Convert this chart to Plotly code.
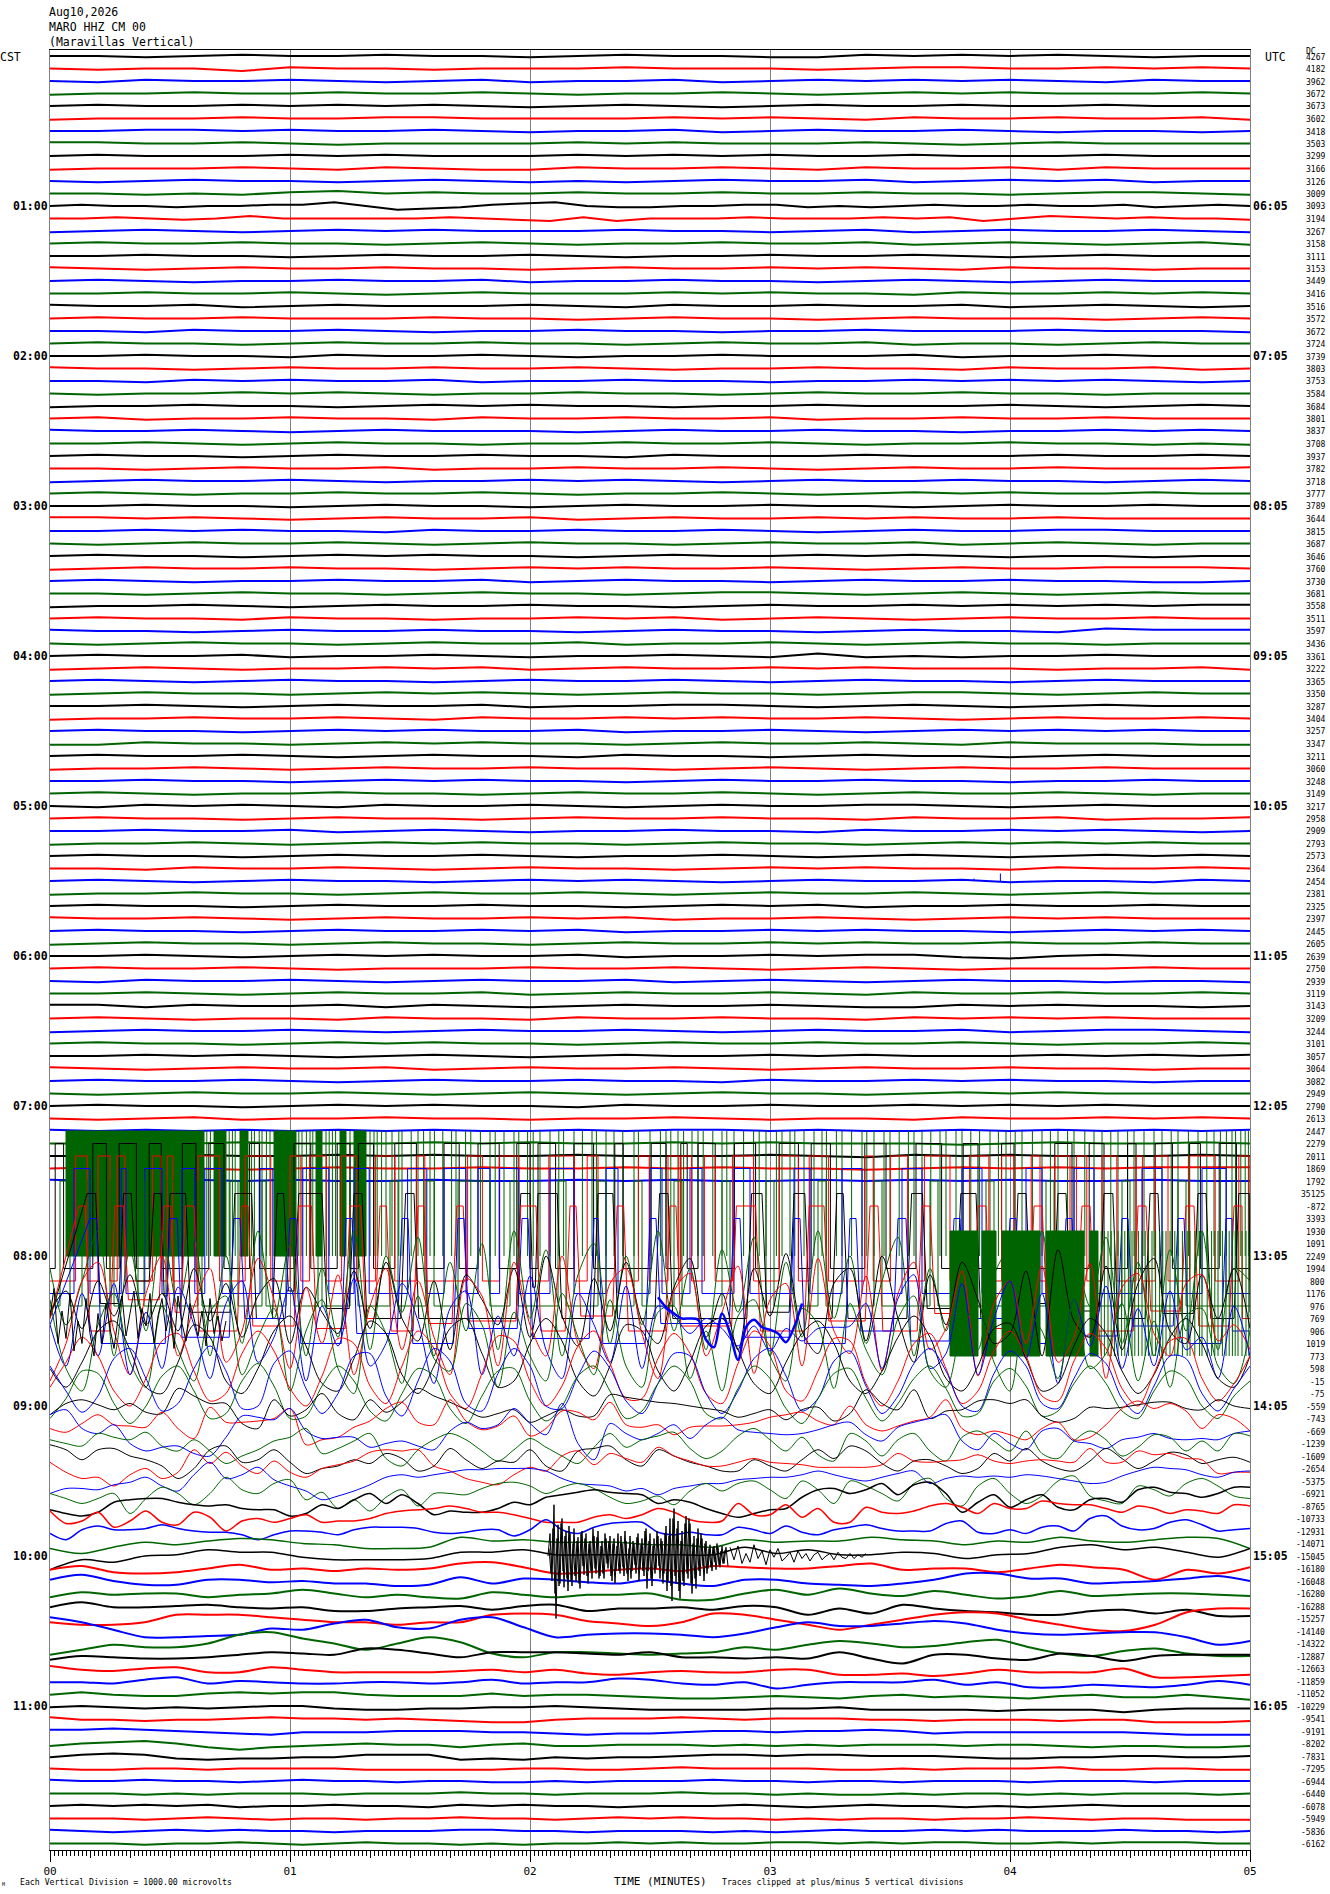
import plotly.graph_objects as go

# ---------- labels ----------
dc_labels = [4267,4182,3962,3672,3673,3602,3418,3503,3299,3166,3126,3009,
3093,3194,3267,3158,3111,3153,3449,3416,3516,3572,3672,3724,
3739,3803,3753,3584,3684,3801,3837,3708,3937,3782,3718,3777,
3789,3644,3815,3687,3646,3760,3730,3681,3558,3511,3597,3436,
3361,3222,3365,3350,3287,3404,3257,3347,3211,3060,3248,3149,
3217,2958,2909,2793,2573,2364,2454,2381,2325,2397,2445,2605,
2639,2750,2939,3119,3143,3209,3244,3101,3057,3064,3082,2949,
2790,2613,2447,2279,2011,1869,1792,35125,-872,3393,1930,1091,
2249,1994,800,1176,976,769,906,1019,773,598,-15,-75,
-559,-743,-669,-1239,-1609,-2654,-5375,-6921,-8765,-10733,-12931,-14071,
-15045,-16180,-16048,-16280,-16288,-15257,-14140,-14322,-12887,-12663,-11859,-11052,
-10229,-9541,-9191,-8202,-7831,-7295,-6944,-6440,-6078,-5949,-5836,-6162]
left_hours = ["01:00","02:00","03:00","04:00","05:00","06:00","07:00","08:00","09:00","10:00","11:00"]
right_hours = ["06:05","07:05","08:05","09:05","10:05","11:05","12:05","13:05","14:05","15:05","16:05"]
minute_labels = ["00","01","02","03","04","05"]
colors = ["#000000","#ff0000","#0000ff","#006400"]

# ---------- trace deviations, tenths of a vertical division, positive = up ----------
t000=[0,0,-1,0,1,0,0,1,0,0,-1,0,1,0,0,-1,-1,1,0,1,0,1,0,-1,0,0]
t001=[0,-1,0,0,-2,1,0,0,-1,0,0,0,1,0,0,0,-1,0,1,1,0,0,1,0,1,0]
t002=[0,-1,1,0,0,1,0,-1,0,1,-1,0,0,1,-1,0,1,0,1,0,1,0,-1,1,0,0]
t003=[-1,0,0,1,0,0,1,0,0,1,0,-1,0,0,1,0,-1,0,1,0,1,0,0,0,1,0]
t004=[0,1,0,0,1,0,1,0,1,0,-1,0,1,0,-1,0,1,0,0,1,0,0,1,0,0,0]
t005=[-1,0,0,0,1,0,0,1,1,0,0,0,0,1,0,1,0,-1,1,0,0,1,0,0,1,-1]
t006=[0,0,1,1,0,1,0,0,1,0,-1,0,0,1,-1,0,1,0,0,1,0,-1,0,0,-1,0]
t007=[1,1,0,0,1,0,-1,0,0,0,0,1,0,1,0,0,0,1,0,-1,0,1,0,0,0,0]
t008=[0,1,0,0,0,1,0,1,0,0,0,1,0,1,0,1,0,0,1,0,0,0,1,0,0,0]
t009=[-1,0,0,0,1,0,-1,1,0,-1,-1,1,0,0,1,0,-1,1,0,0,1,-1,1,0,0,0]
t010=[0,-1,0,1,0,0,-1,0,1,0,-1,0,-1,0,1,0,0,1,-1,0,1,0,1,-1,0,0]
t011=[0,0,-1,0,-1,1,2,0,1,0,0,1,0,0,1,0,0,1,0,0,-1,0,1,1,0,-1]
t012=[0,1,0,0,-1,0,0,1,1,3,0,-3,-2,-1,1,2,3,0,-1,-1,0,0,1,1,-1,0,-1,0,1,0,0,1,0,0,1,-1,0,1,0]
t013=[0,0,1,0,-1,0,2,0,0,0,0,0,1,0,-1,-2,1,-2,0,0,0,1,0,0,0,1,0,1,-2,0,2,1,0,1,0,0,-1]
t014=[-1,0,1,0,-1,0,1,0,1,0,0,0,1,0,0,-1,0,1,-1,0,1,0,0,1,0,-1]
t015=[0,1,0,0,1,0,0,-1,0,1,0,-1,0,0,1,0,0,1,-1,0,1,0,-1,0,1,-1]
t016=[0,0,1,0,0,-1,0,1,0,0,1,0,-1,0,0,1,0,0,1,0,-1,0,1,0,0,0]
t017=[1,0,-1,0,1,0,0,1,0,0,-1,0,1,0,0,1,0,1,0,-1,1,0,0,-1,0,0]
t018=[0,1,0,-1,0,0,1,0,0,1,-1,0,0,1,0,0,-1,0,1,0,-1,0,1,0,0,0]
t019=[0,0,1,0,0,1,0,-1,0,1,0,0,0,1,0,1,0,0,-1,1,0,0,1,0,1,0]
t020=[1,0,0,1,-1,0,1,0,0,0,1,0,-1,1,0,0,1,0,0,1,-1,0,1,0,-1,0]
t021=[0,1,0,0,1,0,0,0,1,0,0,-1,0,1,0,0,-1,0,1,0,0,0,-1,0,1,0]
t022=[0,0,-1,1,0,0,1,0,-1,0,0,1,0,0,-1,0,0,1,0,0,0,1,0,0,0,-1]
t023=[0,1,0,0,-1,0,1,0,0,1,0,0,-1,0,1,0,0,1,-1,0,0,-1,0,1,0,0]
t024=[0,0,1,0,0,-1,1,0,0,1,0,-1,0,0,1,0,0,0,1,-1,0,0,1,0,0,0]
t025=[1,0,0,-1,0,1,0,0,1,0,0,1,0,-1,0,0,1,0,0,-1,1,0,0,1,-1,0]
t026=[0,0,-1,1,0,1,0,0,1,-1,0,0,1,0,0,-1,0,0,1,0,1,0,1,0,-1,0]
t027=[0,-1,0,0,1,0,1,0,-1,0,0,1,0,0,-1,0,1,0,0,1,0,0,-1,0,0,0]
t028=[-1,0,0,1,0,0,-1,0,1,0,1,0,0,-1,0,0,1,0,0,0,1,0,-1,0,1,0]
t029=[0,1,-1,0,0,1,0,0,-1,1,0,0,1,0,0,1,-1,0,0,1,0,0,1,0,0,0]
t030=[1,0,0,1,0,-1,0,1,0,0,0,-1,0,1,0,0,1,0,0,-1,0,0,1,0,1,0]
t031=[0,0,1,0,-1,0,1,0,0,-1,0,0,1,0,0,1,0,-1,0,0,1,0,0,-1,0,-1]
t032=[0,1,0,0,-1,0,1,0,0,1,0,0,-1,1,0,0,0,1,0,0,0,1,0,0,1,0]
t033=[0,0,-1,0,1,0,0,1,-1,0,0,1,0,0,1,0,-1,0,1,0,0,1,0,0,0,1]
t034=[-1,0,1,0,0,1,0,-1,0,0,1,0,1,0,-1,0,1,0,0,1,0,0,-1,0,1,0]
t035=[0,1,0,-1,0,0,1,0,0,1,0,-1,0,0,1,0,-1,0,1,0,1,0,0,1,0,0]
t036=[0,0,1,0,0,-1,0,1,0,0,-1,0,1,0,0,1,0,0,-1,0,1,0,0,1,0,0]
t037=[1,1,0,1,0,-1,0,1,0,0,1,-1,0,1,0,0,1,0,1,0,0,1,0,0,0,0]
t038=[0,0,1,0,1,0,0,-1,1,0,0,1,0,0,1,0,-1,0,1,0,0,1,1,0,0,0]
t039=[0,-1,0,1,0,0,1,0,-1,0,1,0,0,-1,0,1,0,0,1,-1,0,1,0,-1,0,0]
t040=[0,1,0,0,-1,0,1,0,1,0,0,-1,0,1,0,0,1,0,1,0,-1,0,0,-1,0,0]
t041=[-1,0,1,0,0,1,0,0,-1,0,1,0,1,0,0,1,0,-1,0,1,0,0,1,1,1,0]
t042=[0,1,0,-1,0,0,1,0,0,1,-1,0,1,0,0,-1,0,1,0,0,1,0,0,-1,-1,0]
t043=[0,0,-1,0,1,0,0,-1,0,1,0,0,-1,0,1,1,0,-1,0,1,0,-1,0,1,0,0]
t044=[-1,0,0,1,0,-1,0,1,0,0,1,0,0,-1,0,1,0,0,1,0,1,0,1,0,1,1]
t045=[0,1,0,0,-1,1,0,0,-1,0,0,1,0,1,-1,0,1,0,-1,0,1,0,0,1,0,0]
t046=[1,0,0,-1,0,1,0,0,1,0,0,-1,0,1,0,0,-1,0,1,0,0,-1,2,1,1,1]
t047=[0,-1,0,1,0,0,-1,0,1,0,0,1,-1,0,0,1,0,-1,0,1,0,0,-1,0,0,0]
t048=[0,1,0,0,1,-1,0,0,1,0,-1,0,0,1,0,-1,2,-1,0,-1,0,0,1,0,0,0]
t049=[-1,0,1,0,-1,0,0,1,0,1,-1,0,1,0,0,1,0,1,0,0,0,-1,0,0,1,-1]
t050=[0,1,0,-1,0,1,0,0,-1,0,1,0,0,1,0,-1,0,1,0,0,-1,0,1,0,0,0]
t051=[-1,0,1,0,0,-1,0,1,0,1,0,-1,0,1,0,0,-1,0,1,1,0,-1,0,1,0,0]
t052=[0,0,1,0,-1,0,1,0,0,1,-1,0,0,1,1,0,-1,0,1,0,-1,0,1,0,0,0]
t053=[-1,0,0,1,0,0,1,0,-1,1,0,0,1,0,1,0,0,1,0,-1,0,1,0,0,1,0]
t054=[0,1,0,0,-1,0,1,0,1,0,0,1,-1,0,0,1,0,-1,0,1,0,1,0,1,0,0]
t055=[-1,-1,1,0,0,-1,0,1,0,1,0,0,-1,0,1,0,0,1,0,-1,1,0,0,0,-1,-1]
t056=[0,1,0,0,1,0,-1,0,1,0,0,-1,1,0,0,-1,0,1,0,0,-1,0,1,0,0,0]
t057=[-1,0,0,1,0,-1,0,1,0,0,1,0,0,-1,0,1,0,-1,0,1,0,0,1,0,0,0]
t058=[0,0,1,0,0,-1,0,1,0,1,0,0,-1,0,1,0,0,1,0,0,-1,0,0,1,0,0]
t059=[0,1,0,-1,0,0,1,0,0,-1,0,1,0,0,1,0,-1,0,1,0,0,1,0,-1,0,0]
t060=[0,-1,1,0,1,0,-1,1,0,0,1,0,-1,0,1,0,0,1,1,0,-1,0,1,0,0,0]
t061=[0,1,0,0,-1,0,1,0,0,-1,0,1,0,0,1,0,0,-1,1,0,0,1,-1,0,0,1]
t062=[0,0,1,0,0,1,-1,0,1,0,-1,0,0,1,0,0,-1,1,0,0,1,0,1,0,-1,0]
t063=[-1,0,0,1,0,-1,0,1,0,1,0,0,-1,0,1,0,0,-1,0,1,0,1,0,1,0,0]
t064=[0,1,0,0,-1,0,1,0,0,1,0,-1,0,0,1,0,-1,0,1,0,-1,0,1,0,1,0]
t065=[0,0,-1,1,0,0,1,0,-1,0,1,0,0,-1,0,1,0,1,0,0,-1,1,0,0,1,0]
t066=[0,1,0,-1,0,1,0,0,-1,0,1,0,1,0,-1,0,1,0,0,1,-1,0,0,-1,1,0]
t067=[-1,0,0,1,0,0,-1,0,1,0,0,1,0,-1,0,1,0,0,1,0,-1,0,1,0,0,0]
t068=[0,1,0,0,-1,0,1,0,0,1,0,0,-1,0,1,0,1,-1,0,0,1,0,0,1,0,0]
t069=[1,0,0,1,0,-1,0,1,0,0,1,0,1,-1,0,0,1,0,-1,0,1,0,1,0,0,0]
t070=[0,1,0,0,-1,0,1,0,0,1,0,1,-1,0,0,1,0,1,0,0,-1,0,1,0,1,0]
t071=[-1,0,1,0,0,-1,0,1,0,0,-1,0,1,0,0,1,0,1,0,0,1,0,0,1,0,0]
t072=[0,0,1,0,-1,0,1,0,1,0,0,1,-1,0,0,1,0,1,1,-1,-2,0,1,0,0,0]
t073=[0,1,0,0,1,0,-1,0,0,0,1,0,0,1,0,-1,0,1,0,-1,0,0,0,1,0,0]
t074=[0,-1,1,0,0,1,0,-1,0,1,0,0,1,-1,0,1,0,-1,0,1,0,0,-1,0,0,-1]
t075=[0,0,1,0,-1,0,1,0,0,1,-1,0,1,0,0,1,0,-1,1,0,0,1,0,0,1,0]
t076=[1,1,-1,1,0,0,1,-1,1,0,-1,0,1,0,0,1,0,-1,-1,1,0,1,0,0,-1,0]
t077=[0,1,0,-1,0,0,-1,1,0,0,-1,1,0,0,1,0,0,-1,1,0,1,0,1,0,0,0]
t078=[-1,0,1,0,0,1,0,-1,0,1,0,0,1,0,-1,0,1,0,0,1,-1,0,1,1,0,-1]
t079=[0,1,0,0,-1,0,1,0,1,0,0,-1,0,1,0,0,1,0,0,1,0,-1,0,0,1,0]
t080=[0,0,1,0,1,0,-1,0,1,0,-1,0,1,0,0,1,0,1,0,0,0,1,0,1,0,1]
t081=[1,0,-1,0,1,0,0,1,-1,0,1,0,0,1,0,-1,0,1,0,0,1,0,0,-1,0,0]
t082=[0,1,0,0,1,0,-1,0,1,0,0,1,0,0,-1,1,0,0,1,0,1,0,0,-1,0,0]
t083=[0,-1,0,1,0,0,1,0,-1,0,1,0,-1,0,1,0,0,-1,0,1,0,1,0,0,0,0]
t084=[0,1,0,0,-1,0,1,0,1,0,0,-1,1,0,0,1,0,0,1,0,1,0,1,0,0,0]
t085=[0,-1,0,1,-1,0,0,1,0,0,-1,0,0,1,0,-1,0,0,-1,1,0,0,1,0,1,0]
t086=[1,0,1,0,1,0,1,0,1,0,0,1,0,1,1,0,1,0,0,1,0,1,0,1,0,1]
t087=[0,0,1,0,1,0,0,0,1,0,1,0,0,1,0,1,0,0,0,-1,0,1,0,0,1,0]
t088=[0,0,0,1,0,0,1,0,1,0,0,1,0,0,0,1,0,-1,1,0,1,0,0,0,1,0]
t089=[0,1,0,0,-1,0,1,0,0,1,0,0,1,0,1,0,0,-1,0,1,0,1,0,1,1,1]
t090=[1,0,0,1,0,1,0,0,1,0,0,1,0,1,0,0,1,0,1,0,1,0,0,1,0,0]

# green trace 91 / 99: full-scale oscillation, windows and single strokes (seconds)
g91_solid_start=[4,41,47.5,56,66.5,72.5,76]
g91_solid_end=[38.5,44,49.5,61.5,68,74,79]
g91_spikes=[39.2,40.1,44.8,45.6,46.3,50.4,51.1,52.3,53,54.1,55,62.2,63,64.1,65,65.7,69,69.8,70.6,71.4,75,80,81,81.8,82.9,84,85.5,87.2,88,90.3,92,93.4,95,96.1,98.2,100.4,101.5,103.9,105.2,107.6,110,111.3,113.5,116,117.2,119.4,120.8,122.5,125,127.2,128.4,131,133.1,135.5,136.6,139,141,143.2,146,147.1,150,152.6,154,155.2,157,158.4,160.5,162,163.3,165.7,168,169.2,171,173.4,175.9,177.3,179,181.6,183,185,186.2,188.5,191,193,194.1,196.6,198,200.4,203,204.2,206,208.5,210,212.3,214.6,216,218,220.2,222.5,224,226.5,228,230.2,232.4,235,237.1,239,241.3,243,245.6,248,250.1,252,254.4,256,258.7,261,263,265.2,267,269.4,271,273.5,276,278,280.3,282,284.6,287,289.2,291,292.6,294.1,295.5,296.4,297.7,298.8,299.6]
g99_solid_start=[225,233,238,249,260]
g99_solid_end=[232,236.5,247.5,258.5,262]
g99_spikes=[262.8,263.6,264.5,265.3,266.1,267,267.9,268.7,269.6,270.5,271.2,272.1,273,273.8,274.6,275.5,276.4,277.4,278.2,279,280,281.2,282,283.1,284.3,285,286.2,287.4,288,289.3,290.4,291.2,292,293.1,294,294.8,295.6,296.3,297,298,299,299.7]

# clipped traces: times at which the trace switches between the two clip levels
sq092=[1.3,3.4,10.7,14.1,17.3,21.6,24.8,27.8,33.1,36.5,39.7,43.5,49.9,52.4,61,65.2,71.8,75,77.1,80.9,86.2,91.6,98.5,102.3,107,112.3,116.7,120,122,126.4,131,135.9,141.2,143.3,150.3,154,157.7,159.3,162,166.3,171.1,176.4,182.3,187.1,190.3,195.1,203.7,209,216.5,222.9,228.3,232,237.9,241,251.2,255.5,259.8,263.5,269.4,271.5,276.3,280.6,284.9,287.6,292.3,296.6]
sq093=[6.4,9.3,12,15,16.8,18.7,25.6,27.8,29.3,30.7,37,42.4,48.8,55.2,60,62.7,64.9,69.1,72.9,76.6,81.4,86.2,91.6,93.7,104.4,108.1,112.4,117.2,124.7,131.1,134.3,137,147.1,149.8,154.5,157.2,157.7,160.4,163.6,166.3,170.6,175.9,182.3,187.1,189.8,194.6,203.7,205.8,210.1,214.4,218.6,225,229.9,234.7,237.9,241,245.3,247.5,251.2,255,256.6,259.2,263,266.7,271.5,273.1,276.3,279.5,284.9,291.3,297.2,299.8]
sq094=[6,10,17.8,19,23.7,28,33,36.2,38.7,43,52.5,55.7,63.2,69.7,76,79.8,89.4,94.2,98.5,104,107,110,112.4,117.2,125,131,139,142,150,153,160,163,171,175,186,190,198,203,213,218,228,233,244,248,256,261,273,278,288,294]
sq095=[2.5,5,8,9.5,15,16,22,23.5,29,31,37,38,45,47,53,54,59,61,67,68,75,77,85,87,94,96,102,110,115,117,127,129,137,139,146,148,156,158,168,170,179,181,192,194,206,208,220,222,234,236,249,251,268,270,282,284]

# partly clipped traces: windows at the upper clip, and the depth reached between them
w096_s=[9.3,18.4,26,30,46.2,56.8,62.2,76,88.9,117.7,122,137,152.4,175.4,186,196.7,215.4,227.7,242,252,263.5,275,287,297.2]
w096_e=[11.4,20.3,27.8,33.9,50.4,58.4,68,78,91,120,126.8,140.7,154.5,178,188.7,198.3,218.1,231.5,244,254,265.7,277,289,299.8]
l096=[-50,-38,-20,-32,-45,-50,-28,-42,-50,-50,-25,-50,-50,-50,-45,-50,-50,-42,-50,-38,-44,-50,-46,-50,-45]
w097_s=[7.2,16.2,28.5,33.9,48,62.2,75,82.5,92,101.7,117.7,130,141.8,155,171.6,189.8,205,218,232,246,258,272,284,296]
w097_e=[8.8,18.4,30.1,36,49.5,65.4,77.7,84.1,93.5,103.3,121.5,131.5,143.4,156.5,176.4,193.5,207,220,234,248,260,274,286,298]
l097=[-40,-50,-25,-35,-50,-46,-48,-40,-50,-44,-42,-50,-38,-50,-46,-50,-42,-50,-36,-48,-30,-50,-34,-46,-40]
w098_s=[10,30,46,60,74,88,102,118,136,150,171,186,200,212,226,240,254,268,282,294]
w098_e=[11.6,31.8,47.5,61.5,75.5,89.5,103.5,119.5,137,151.5,172.5,187.5,201.5,214,227.5,241.5,255.5,269.5,283.5,295.5]
l098=[-35,-50,-45,-30,-50,-42,-50,-38,-46,-50,-34,-45,-50,-40,-48,-30,-50,-44,-36,-50,-40]

# traces in the tangle, one value every 4 s
t099=[20,-25,10,50,-50,35,-30,50,-10,45,-50,30,-40,50,-20,40,-50,20,-35,50,-45,30,-15,45,-50,25,-30,40,-45,50,-20,35,-50,15,40,-40,30,-25,50,-30,20,-45,35,-15,45,-50,25,-35,50,-20,30,-40,10,45,-50,20,-30,40,-45,15,35,-25,50,-50,30,-10,45,-40,25,-50,35,-30,50,-45,20,10]
t100=[-5,12,-18,20,-8,25,-15,10,-20,30,-12,18,-25,8,22,-30,15,-5,-22,28,-18,35,-10,-28,20,-35,25,5,-15,30,-25,40,-8,-32,22,-20,35,-12,-30,15,38,-25,10,-35,30,-8,42,-20,-38,18,30,-28,40,-10,-45,25,-15,35,5,-30,-22,28,-40,45,-12,-25,32,-35,18,38,-20,-30,25,-10,30,-18]
t101=[-50,-20,30,45,-10,-45,20,50,-30,10,40,-35,-10,48,15,-40,25,-20,35,-45,10,40,-25,30,-15,-45,32,18,-38,45,-5,-30,50,-20,-40,28,40,-12,-48,22,36,-30,5,42,-44,15,28,-38,48,-10,-28,34,-42,20,45,-25,-8,38,-46,12,30,-20,42,-35,-15,44,-48,25,36,-12,-30,28,35,-18,-5,-25]
t102=[5,-28,30,-20,38,-35,15,-30,35,5,-38,22,40,-25,-5,35,-40,20,-12,42,-28,-10,38,8,-42,18,32,-35,12,-20,44,-15,-38,30,5,-25,36,-30,20,12,-2,10,2,-12,4,-16,2,-8,2,3,4,22,-30,26,45,-30,-18,38,-35,10,40,-22,30,-42,25,-12,36,-30,18,-28,32,-15,-5,-38,20,-20]
t103=[35,-20,-38,15,40,-15,-35,30,-5,-30,25,38,-25,5,28,-38,10,35,-20,-40,30,8,-32,38,-12,-22,32,15,-35,25,-10,-30,40,5,-25,35,-18,-35,25,30,-28,10,-38,22,35,-10,-30,28,15,-36,32,-5,-25,20,38,-22,-35,12,30,-15,-38,25,10,-28,35,-20,-8,32,-30,18,-35,22,28,-18,-32,10]
t104=[-10,-25,-5,20,28,5,-25,-30,-5,25,15,-20,-30,-10,20,32,8,-22,-28,-2,28,18,-15,-30,-8,22,30,2,-25,-20,10,30,12,-20,-32,-8,25,20,-12,-28,-5,24,30,5,-22,-30,-5,18,28,10,-20,-30,-12,15,32,15,-18,-28,-8,22,26,-2,-28,-22,8,30,18,-12,-30,-15,15,30,10,-18,-25,0]
t105=[-15,5,25,10,-18,-30,-8,22,28,-2,-26,-20,12,30,14,-16,-30,-6,24,20,-14,-28,2,30,16,-20,-32,-4,26,22,-10,-30,-14,18,30,4,-24,-24,8,28,12,-20,-28,4,30,18,-18,-26,-2,24,22,-12,-30,-10,20,28,0,-28,-18,14,30,10,-22,-26,6,28,16,-16,-30,-4,22,24,-8,-26,-12,10]
t106=[12,-8,-25,-12,18,26,2,-24,-18,10,28,8,-22,-20,14,24,-6,-26,-10,20,22,-12,-28,0,26,16,-18,-24,6,26,12,-20,-22,4,24,10,-16,-26,-2,22,20,-10,-26,-8,18,26,4,-24,-14,16,24,-4,-26,-12,14,26,8,-20,-24,6,24,12,-18,-22,2,22,14,-14,-26,-4,20,18,-10,-24,-6,12]
t107=[-20,-4,18,16,-8,-24,-10,14,22,2,-20,-16,10,24,6,-20,-18,6,22,10,-14,-22,0,20,14,-12,-24,-2,18,20,-6,-22,-10,14,22,2,-20,-14,8,22,10,-16,-20,4,22,12,-12,-24,-4,16,20,-4,-22,-8,12,22,4,-18,-16,10,20,6,-18,-14,8,22,8,-14,-20,2,18,12,-10,-20,-2,10]
t108=[-7,2,5,1,-3,2,-5,-6,14,8,2,2,-14,-18,5,-8,-3,10,-6,-11,5,-5,3,14,8,3,-3,-9,-6,-3,-13,-8,-3,-8,-8,9,7,5,3,2,0,-2,-4,-9,-6,-3,-11,-3,-1,-12,-6,13,2,-3,13,-10,-4,-3,4,5,2,5,-8,-13,-10,-1,-2,-1,1,3,3,-2,-3,5,0,-2]
t109=[-8,-11,-4,3,-5,-6,-7,5,-8,-16,9,-3,-3,-2,0,8,-21,-17,-15,-7,-2,8,13,-3,-5,15,-2,-9,-6,2,-14,-8,6,5,-1,13,-5,-7,-5,-13,-7,-6,-6,-5,-3,1,3,5,-2,-5,10,-5,-10,-6,-2,1,15,-8,-13,-10,-13,-17,-8,-3,-17,-15,-5,8,14,8,12,6,-8,3,0,-10]
t110=[13,17,2,-2,5,-10,-16,-13,-12,-18,-20,-5,12,11,9,18,0,-6,-5,-5,-13,-10,-8,-12,-15,0,7,2,5,18,6,-3,22,-10,-23,6,-2,-7,-2,5,-6,5,11,1,-1,-2,-3,-2,1,5,7,-3,-8,3,7,10,13,-8,-15,-2,-10,-15,0,2,-8,-10,-14,-7,-5,-2,-6,-7,-6,-7,-2,0]
t111=[3,0,-2,8,5,3,9,-2,-6,3,-6,-16,-10,-5,2,5,12,-8,-4,2,8,-12,-18,-5,3,8,3,-6,-14,-5,4,-3,-10,-16,-3,8,-3,3,6,9,-4,-12,-6,6,12,3,-6,5,-9,-14,8,2,-10,3,8,-6,-14,5,10,2,-6,10,-8,-12,2,10,3,-10,-3,7,5,-6,2,-6,8,6]
t112=[9,5,-3,5,6,0,-3,-8,-18,-10,5,8,-5,-3,5,-5,-14,-10,-8,-3,-6,2,-2,-12,-8,6,-3,-10,-4,-5,5,-8,-12,4,6,8,-3,-8,5,0,-5,-8,-12,-12,-3,-8,-12,-3,5,-2,8,4,-6,-12,-4,-3,-8,-14,-10,2,-4,6,-4,-10,-12,-4,6,-2,-10,-4,3,1,-6,-3,-1,-5]
t113=[5,-3,-8,-7,-14,-5,0,-8,-3,15,4,13,2,-4,6,-3,-7,0,3,6,13,15,14,15,2,-2,-8,-11,-13,-5,1,-2,10,14,3,12,8,5,17,10,6,2,2,5,8,5,4,3,1,1,1,1,3,12,6,5,6,7,11,6,4,6,7,6,5,16,5,5,14,11,12,8,7,-4,-3,-3]
t114=[-10,-6,-6,-7,-3,-1,3,-4,-8,5,15,2,5,11,1,-4,-8,-15,-12,-8,-3,3,5,3,5,7,9,9,10,10,10,8,2,-2,-3,-4,-8,-6,-11,-6,-4,-2,-2,1,2,3,3,5,8,5,2,0,3,6,8,-2,2,4,3,4,3,5,4,2,0,-2,-1,4,8,11,10,9,5,3,7,8]
t115=[0,-4,-8,-4,0,-16,-4,5,0,-9,0,13,3,0,8,11,-5,1,-12,-5,-14,-3,3,-10,0,0,-1,4,8,9,6,0,5,8,4,-3,-8,-6,-2,-9,2,8,2,8,10,3,-4,10,3,-8,10,6,0,-6,8,12,-4,-10,6,12,0,-8,-2,10,14,-2,-6,-8,6,3,-2,8,12,6,-2,-4]
t116=[-3,-6,-8,-5,3,5,6,6,3,1,0,1,-2,-3,-3,-8,-6,1,-2,5,10,2,9,2,-7,-4,-5,-5,-2,3,1,7,9,11,13,11,10,9,2,5,3,-2,-6,-9,-6,-3,-2,7,13,14,10,13,18,9,17,19,10,-5,3,9,-1,5,9,-1,-3,5,6,3,13,15,11,10,7,10,15,15]
t117=[6,-4,-2,5,-7,-2,6,-3,-5,5,1,-10,-2,0,-3,0,3,-3,-2,-2,0,4,6,7,8,10,8,5,5,3,0,-3,-3,-3,1,3,0,3,8,5,-1,-3,-2,12,3,3,11,1,8,-3,-3,9,5,4,6,10,12,9,4,12,8,8,14,12,11,11,8,5,10,8,4,7,6,4,11,10]
t118=[-2,-7,1,4,1,1,2,5,2,0,-1,-1,-3,-7,-3,0,0,-1,-3,1,3,3,3,2,-1,-2,-1,1,1,-4,1,9,1,-2,3,6,7,7,-1,-3,-1,-3,-3,3,1,-2,4,-1,-3,1,3,5,2,0,0,0,6,8,-1,-2,1,-2,3,4,0,10,12,4,1,2,7,9,5,0,1,2]
t119=[-4,-8,-3,1,-1,2,4,3,0,-1,-4,-4,-3,5,2,3,1,1,1,-1,-1,-3,3,1,2,2,5,3,2,-1,2,1,5,2,1,3,5,4,-4]
t120=[-11,-3,-5,0,1,5,3,3,-1,-3,-3,-3,-2,3,3,5,1,1,1,1,1,1,7,2,5,1,1,3,2,-2,1,2,7,9,5,7,3,-1,6]
t121=[-1,2,-3,-4,-3,0,3,-1,0,-2,0,-1,0,4,5,1,-4,-3,-1,0,-2,2,1,0,0,2,4,-1,0,0,-3,0,3,1,-1,-9,-1,-4,1]
t122=[1,5,0,-3,-3,1,1,-1,0,-2,-2,-4,-3,3,-2,2,1,-1,-2,1,-2,-4,1,1,-2,-3,-4,-2,1,6,6,2,2,-2,-1,0,2,4,0]
t123=[-3,1,-1,0,0,-3,-1,0,3,0,-3,-1,-3,-4,1,-1,-3,-1,-1,0,-5,-5,0,3,-1,4,0,-2,2,-1,-4,-2,2,-2,-1,0,0,-1,-2]
t124=[-1,3,-1,-1,0,1,-1,-2,-1,-4,-4,-2,-1,0,-3,0,1,-4,-2,-2,-1,-3,0,-1,-7,-2,-6,1,-2,-4,-5,-7,-7,-4,-3,-6,-3,-8,-8]
t125=[-3,-5,-5,-3,3,3,3,1,-1,-3,-3,-5,-3,-3,3,4,3,-2,-4,-6,-3,4,3,-1,-5,-9,-5,-1,3,5,4,-1,-5,-9,-10,-5,5,8,8]
t126=[11,7,1,-5,-5,-4,-3,2,1,6,9,3,2,9,11,3,-5,-3,-2,-2,-3,-5,-2,3,7,4,4,6,8,6,1,-2,-3,-2,-1,-1,-5,-11,-8]
t127=[-9,-5,-1,-3,-3,0,7,9,4,0,-5,0,5,1,-8,-11,-7,-7,-8,-9,-8,-7,-3,-5,-1,2,0,-3,-2,1,3,-3,-8,-10,-6,-4,-8,-10,-10]
t128=[-3,0,-1,-2,-2,-1,1,3,2,1,6,5,2,-1,3,3,3,2,1,3,-1,-1,-2,-1,-2,3,-2,-6,1,1,-2,-3,2,0,-4,0,1,1,1]
t129=[2,-1,-2,0,1,-3,-3,1,-1,-3,-3,-3,-3,-2,-1,-3,-1,-4,-5,-3,-2,-3,-3,-1,-1,-5,-5,-4,-6,-4,-1,-3,-3,-3,0,-7,-7,-6,-5]
t130=[-1,-1,-2,1,3,-2,0,-1,-2,-2,-1,-1,-2,-1,1,-2,-1,-1,2,1,-2,-3,-1,-6,-3,-1,-1,-1,1,-3,-1,-5,-5,-3,-4,-5,-3,0,-3]
t131=[-1,1,-1,-2,-2,0,1,0,1,1,-1,-2,-2,-2,0,-2,-1,-1,-2,-3,-4,-4,-3,-2,-3,-4,-2,-1,-3,-2,-3,-4,-2,-1,-3,-3,-1,-3,-5]
t132=[-1,0,-1,-2,-1,-2,-1,0,0,-2,-3,-3,-2,-2,-1,-1,0,-1,-2,-3,-3,-3,-3,-2,-2,-1,-3,-3,-3,-3,-4,-3,-3,-3,-5,-3,-2,-2,-2]
t133=[1,-1,-1,-2,-1,-1,0,1,0,0,-1,0,-1,-2,-3,-3,-1,0,0,0,1,0,-1,0,0,0,-1,-1,-2,-1,-1,-1,-2,-1,-1,-3,-3,-3,-2]
t134=[1,1,2,1,0,-1,-2,-3,-1,-1,-1,0,0,0,-1,-1,-2,-3,-2,-2,-1,0,0,-1,0,0,1,0,-2,-1,-1,-1,-1,-1,-1,-2,-3,-3,-3]
t135=[-2,0,1,2,0,-3,-5,-3,-2,-1,0,-1,-1,-3,-1,0,-2,-2,-1,-1,-1,-2,-1,-2,-1,-2,-1,-1,-1,-2,-1,-1,-2,-3,-2,-2,-3,-3,-2]
t136=[-1,1,2,1,-2,-3,-2,-2,-1,-1,1,1,1,-3,-2,-3,-1,-2,-1,-1,0,1,1,0,1,1,0,0,0,-1,-2,-2,-1,-1,0,0,-1,-1,0]
t137=[0,-1,-1,0,0,-1,0,0,0,0,-1,-1,-1,-1,-1,0,0,-1,-1,0,1,0,0,0,0,-1,-1,0,-1,0,0,0,1,-1,-1,0,0,-1,-1]
t138=[1,0,0,1,0,0,-1,0,1,0,0,-1,0,0,-1,-1,0,-1,0,0,0,1,0,0,-1,0,0,-1,0,0,0,-1,0,0,0,-1,0,0,0]
t139=[0,0,0,-1,0,-1,0,0,0,-1,0,0,0,1,0,0,-1,0,0,0,1,0,0,-1,0,-1,-1,0,-1,0,0,-1,0,-1,0,0,0,-1,0]
t140=[0,1,0,1,0,1,-1,0,0,1,0,0,-1,1,0,1,0,0,-1,0,0,0,1,0,-1,0,1,0,0,-1,0,-1,0,1,0,0,0,0,0]
t141=[0,0,0,-1,0,1,0,-1,0,0,-1,0,0,1,0,0,-1,0,1,0,1,0,0,-1,0,-1,0,0,-1,0,0,1,0,-1,0,0,-1,-1,-1]
t142=[1,0,-1,0,1,0,1,0,0,-1,0,0,0,1,1,0,0,-1,0,0,0,-1,0,-1,0,1,0,0,1,0,1,0,0,0,1,0,0,-1,0]
t143=[0,0,0,-1,0,0,1,0,-1,0,1,0,0,-1,0,-1,0,0,1,0,1,0,0,1,1,0,1,0,1,1,0,0,1,0,1,1,1,0,0]

# short-period bursts: black trace 120 from 124.5 s (every 0.5 s, then every 1 s)
burst120_a=[0,18,-20,41,-50,25,-22,30,-25,20,-28,18,-24,22,-20,15,-26,20,-15,18,-22,12,-18,16,-14,20,-16,12,-18,14,-10,16,-20,14,-12,18,-14,10,-16,12,-20,16,-12,10,-14,18,-10,14,-16,22,-12,18,-24,14,-10,16,-18,12,-14,24,-20,30,-36,38,-22,28,-34,20,-24,32,-18,26,-30,16,-26,22,-16,14,-20,12,-10,9,-12,8,-11,7,-9,8,-6,7,-8]
burst120_c=[6,-14,22,-30,14,-24,26,-12,16,-18,24,-20,10,-16,12,-22,18,-8,14,-16,10,-12,22,-10,15,-18,8,-14,18,-6,12,-16,10,-22,8,-12,16,-9,20,-14,6,-18,12,-7,15,-20,9,-12,20,-26,12,-18,8,-14,20,-8,14,-22,18,-28,16,-24,30,-16,22,-28,12,-20,26,-14,30,-22,10,-18,14,-12,18,-8,10,-14,6,-9,7,-5,10,-7,4,-6,5]
burst120_b=[7,-3,8,-6,2,-5,9,-2,4,-7,5,-1,6,-4,-1,3,-5,4,-2,2,-4,1,3,-3,0,2,-3,3,-1,-2,2,-2,1,-1,2]
# black trace 100, noisy stretch from 0 s, every 1 s
noise100=[-8,14,-30,-4,-26,10,-36,-12,-30,6,-22,-40,-6,-30,2,-18,-34,-10,8,-24,-6,12,-26,-2,-16,10,-30,-8,6,-20,-4,-34,8,-14,-28,2,-10,-24,-4,-32,6,-22,-8,-28,-12]
# blue trace 102, noisy stretch from 152 s, every 2 s
noise102=[27,19,14,10,10,9,-7,-13,14,-2,-23,3,9,3,1,-2,-9,3,22]
spike66_t=[231,237.6]
spike66_v=[2,6]

# ---------- figure ----------
L,R,T,B=50,80,50,44
W,H=1330,1894
fig=go.Figure()

def xs(n,start=0.0,stop=300.0):
    return [start+(stop-start)*k/(n-1) for k in range(n)]

def pos(i,vals):
    return [i-v/10 for v in vals]

def add(x,y,c,w=1.0,shape="linear",**kw):
    fig.add_trace(go.Scatter(x=x,y=y,mode="lines",hoverinfo="skip",showlegend=False,
        line=dict(color=c,width=w,shape=shape,**({"smoothing":0.9} if shape=="spline" else {})),**kw))

def square(i,times):
    x=[0.0]; y=[i+5.0]; up=False
    for t in times:
        up=not up
        x.append(t); y.append(i-5.0 if up else i+5.0)
    x.append(300.0); y.append(y[-1])
    return x,y

def windows(i,st,en,low):
    x=[0.0]; y=[i-low[0]/10]
    for k,(a,b) in enumerate(zip(st,en)):
        if k>0:
            g=a-en[k-1]; d=min(1.2,g/3)
            x+=[en[k-1]+d,a-d]; y+=[i-low[k]/10,i-low[k]/10]
        x+= [a,b]; y+=[i-5.0,i-5.0]
    x+=[en[-1]+0.1,300.0]; y+=[i-low[-1]/10,i-low[-1]/10]
    return x,y

def block(i,st,en,spk,c):
    xb=[];yb=[]
    for a,b in zip(st,en):
        xb+=[a,a,b,b,a,None]; yb+=[i+5,i-5,i-5,i+5,i+5,None]
    fig.add_trace(go.Scatter(x=xb,y=yb,mode="lines",fill="toself",fillcolor=c,hoverinfo="skip",showlegend=False,
                             line=dict(color=c,width=1)))
    xl=[];yl=[]
    for t in spk:
        xl+=[t,t,None]; yl+=[i+5,i-5,None]
    add(xl,yl,c,1.0)

square_sets={92:sq092,93:sq093,94:sq094,95:sq095}
window_sets={96:(w096_s,w096_e,l096),97:(w097_s,w097_e,l097),98:(w098_s,w098_e,l098)}
for i in range(144):
    c=colors[i%4]
    if i==91:
        block(91,g91_solid_start,g91_solid_end,g91_spikes,c)
    elif i in square_sets:
        x,y=square(i,square_sets[i]); add(x,y,c,1.0,"hv")
    elif i in window_sets:
        x,y=windows(i,*window_sets[i]); add(x,y,c,1.0)
    else:
        v=globals()[f"t{i:03d}"]
        if 99<=i<=115:
            add(xs(len(v)),pos(i,v),c,1.0,"spline")
        elif 116<=i<=120:
            add(xs(len(v)),pos(i,v),c,1.5,"spline")
        elif i>120 and i<=130:
            add(xs(len(v)),pos(i,v),c,2.0,"spline")
        else:
            add(xs(len(v)),pos(i,v),c,2.0)
    if i==99:
        block(99,g99_solid_start,g99_solid_end,g99_spikes,c)

add(xs(len(burst120_a),124.5,124.5+0.5*(len(burst120_a)-1)),pos(120,burst120_a),colors[0],1.0)
add(xs(len(burst120_c),124.75,124.75+0.5*(len(burst120_c)-1)),pos(120,burst120_c),colors[0],1.0)
add(xs(len(burst120_b),170,170+len(burst120_b)-1),pos(120,burst120_b),colors[0],1.0)
add(xs(len(noise100),0,len(noise100)-1),pos(100,noise100),colors[0],1.0)
add(xs(len(noise102),152,152+2*(len(noise102)-1)),pos(102,noise102),colors[2],2.5,"spline")
add([spike66_t[0],spike66_t[0],None,spike66_t[1],spike66_t[1]],
    [66,66-spike66_v[0]/10,None,66,66-spike66_v[1]/10],colors[2],1.0)
# carrier for the 10-second tick axis
fig.add_trace(go.Scatter(x=[0],y=[0],xaxis="x2",mode="lines",hoverinfo="skip",showlegend=False,line=dict(width=0)))

def ann(px,py,text,size,anchor="left",weight="normal",color="#000"):
    fig.add_annotation(x=(px-L)/(W-L-R),y=1-(py-T)/(H-T-B),xref="paper",yref="paper",text=text,showarrow=False,
        xanchor=anchor,yanchor="middle",borderpad=0,borderwidth=0,
        font=dict(family="DejaVu Sans Mono",size=size,color=color,weight=weight))

ann(49,12,"Aug10,2026",11.5)
ann(49,27,"MARO HHZ CM 00",11.5)
ann(49,42,"(Maravillas Vertical)",11.5)
ann(0,57,"CST",11.5)
ann(1265,57,"UTC",11.5)
ann(1306,52,"DC",8)
for n,(a,b) in enumerate(zip(left_hours,right_hours)):
    yp=56+12.5*12*(n+1)
    ann(48,yp,a,11.5,"right","bold")
    ann(1253,yp,b,11.5,"left","bold")
for i,d in enumerate(dc_labels):
    ann(1325,57+12.5*i,str(d),8,"right")
ann(20,1882,"Each Vertical Division = 1000.00 microvolts",8.2)
ann(614,1881,"TIME (MINUTES)",11)
ann(722,1882,"Traces clipped at plus/minus 5 vertical divisions",8.2)
ann(2,1884,"M",5)

fig.update_layout(width=W,height=H,margin=dict(l=L,r=R,t=T,b=B,pad=0),paper_bgcolor="white",plot_bgcolor="white",
    showlegend=False,hovermode=False,
    xaxis=dict(range=[0,300],tickmode="array",tickvals=[0,60,120,180,240,300],ticktext=minute_labels,
        ticks="outside",ticklen=11,tickcolor="black",tickwidth=1,showgrid=True,gridcolor="#808080",gridwidth=1,
        zeroline=False,showline=True,linecolor="black",linewidth=1,mirror=True,
        tickfont=dict(family="DejaVu Sans Mono",size=11,color="black"),
        minor=dict(dtick=1,tick0=0,ticks="outside",ticklen=5,tickcolor="black",tickwidth=1,showgrid=False)),
    xaxis2=dict(range=[0,300],overlaying="x",side="bottom",anchor="y",tickmode="linear",tick0=0,dtick=10,
        ticks="outside",ticklen=7,tickcolor="black",tickwidth=1,showticklabels=False,showgrid=False,zeroline=False,showline=False),
    yaxis=dict(range=[143.52,-0.48],showgrid=False,zeroline=False,showticklabels=False,ticks="",
        showline=True,linecolor="#808080",linewidth=1,mirror=True))

fig.write_html("out.html",config={"displayModeBar":False},
    post_script="document.body.style.margin='0';document.documentElement.style.overflow='hidden';")
